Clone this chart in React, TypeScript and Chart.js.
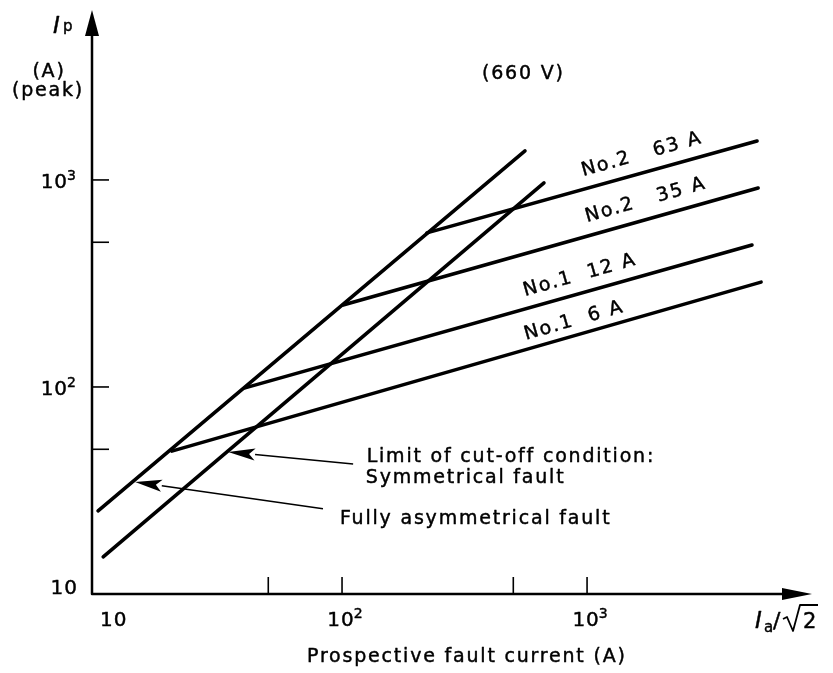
import React, { useEffect, useRef } from "react";
import { Chart, registerables } from "chart.js";

Chart.register(...registerables);

// ---------- data ----------
const xTickValues = [50, 100, 500, 1000];
const yTickValues = [50, 100, 500, 1000];
const xLabelValues = [10, 100, 1000];
const xLabelExponents = ["", "2", "3"];
const yLabelValues = [10, 100, 1000];
const yLabelExponents = ["", "2", "3"];

// Limit of cut-off condition lines (Ip vs Ia/sqrt2)
const asymX = [10.1, 558];
const asymY = [25.2, 1380];
const symX = [10.6, 667];
const symY = [15.1, 968];

// Fuse cut-off characteristics
const fuse63X = [222, 4940];
const fuse63Y = [555, 1542];
const fuse35X = [101, 4990];
const fuse35Y = [249, 914];
const fuse12X = [40.2, 4710];
const fuse12Y = [99, 485];
const fuse6X = [20.2, 5130];
const fuse6Y = [49, 321];

const fuseLabels = ["No.2   63 A", "No.2   35 A", "No.1  12 A", "No.1  6 A"];
const annotationTexts = [
  "Limit of cut-off condition:",
  "Symmetrical fault",
  "Fully asymmetrical fault",
];

const FONT = '"DejaVu Sans", Verdana, sans-serif';

// ---------- layout (positions in data space / pixels) ----------
const fuseLabelAnchors = [
  { x: 964, y: 1045 },
  { x: 1000, y: 627 },
  { x: 558, y: 275 },
  { x: 563, y: 169 },
];
const annotationAnchors = [
  { x: 126, y: 43.5 },
  { x: 125, y: 34.4 },
  { x: 98, y: 21.8 },
];
const arrowDefs = [
  { tail: { x: 111, y: 42.5 }, tip: { x: 34.3, y: 48.5 } },
  { tail: { x: 83.6, y: 25.8 }, tip: { x: 14.3, y: 34.8 } },
];

function seriesData(xs: number[], ys: number[]) {
  return xs.map((x, i) => ({ x, y: ys[i] }));
}

function boldText(ctx: CanvasRenderingContext2D, s: string, x: number, y: number) {
  ctx.fillText(s, x, y);
  ctx.lineWidth = 0.45;
  ctx.strokeText(s, x, y);
}

const decorPlugin = {
  id: "decor",
  afterDraw(chart: any) {
    const ctx: CanvasRenderingContext2D = chart.ctx;
    const xs = chart.scales.x;
    const ys = chart.scales.y;
    const { left, right, top, bottom } = chart.chartArea;
    const px = (v: number) => xs.getPixelForValue(v);
    const py = (v: number) => ys.getPixelForValue(v);

    ctx.save();
    ctx.fillStyle = "#000";
    ctx.strokeStyle = "#000";
    ctx.lineCap = "butt";
    ctx.lineJoin = "round";
    (ctx as any).letterSpacing = "0px";

    // axes
    ctx.lineWidth = 2.5;
    ctx.beginPath();
    ctx.moveTo(left, top + 20);
    ctx.lineTo(left, bottom);
    ctx.lineTo(right - 22, bottom);
    ctx.stroke();
    ctx.beginPath();
    ctx.moveTo(left, top);
    ctx.lineTo(left - 7, top + 26);
    ctx.lineTo(left + 7, top + 26);
    ctx.closePath();
    ctx.fill();
    ctx.beginPath();
    ctx.moveTo(right, bottom);
    ctx.lineTo(right - 30, bottom - 6);
    ctx.lineTo(right - 30, bottom + 6);
    ctx.closePath();
    ctx.fill();

    // tick marks (inward)
    ctx.lineWidth = 1.6;
    xTickValues.forEach((v) => {
      const x = px(v);
      ctx.beginPath();
      ctx.moveTo(x, bottom);
      ctx.lineTo(x, bottom - 17);
      ctx.stroke();
    });
    yTickValues.forEach((v) => {
      const y = py(v);
      ctx.beginPath();
      ctx.moveTo(left, y);
      ctx.lineTo(left + 17, y);
      ctx.stroke();
    });

    // power-of-ten labels
    const drawPow = (base: string, exp: string, x: number, y: number, align: string) => {
      (ctx as any).letterSpacing = "1px";
      ctx.font = `20px ${FONT}`;
      const w1 = ctx.measureText(base).width;
      ctx.font = `14px ${FONT}`;
      const w2 = exp ? ctx.measureText(exp).width : 0;
      const total = w1 + w2;
      const x0 = align === "right" ? x - total : align === "center" ? x - total / 2 : x;
      ctx.textAlign = "left";
      ctx.textBaseline = "alphabetic";
      ctx.font = `20px ${FONT}`;
      boldText(ctx, base, x0, y);
      if (exp) {
        ctx.font = `14px ${FONT}`;
        boldText(ctx, exp, x0 + w1 - 1, y - 8);
      }
    };
    yLabelValues.forEach((v, i) => {
      const y = py(v);
      const base = y > bottom - 4 ? bottom : y + 8;
      drawPow("10", yLabelExponents[i], left - 14, base, "right");
    });
    xLabelValues.forEach((v, i) => {
      const x = px(v);
      if (x < left + 8) drawPow("10", xLabelExponents[i], x + 3, bottom + 32, "left");
      else drawPow("10", xLabelExponents[i], x + 4, bottom + 32, "center");
    });

    // axis titles
    (ctx as any).letterSpacing = "1.8px";
    ctx.textBaseline = "alphabetic";
    ctx.textAlign = "left";
    ctx.font = `italic 23px ${FONT}`;
    boldText(ctx, "I", left - 39, 33);
    ctx.font = `15px ${FONT}`;
    boldText(ctx, "p", left - 29, 31);
    ctx.font = `19px ${FONT}`;
    ctx.textAlign = "center";
    boldText(ctx, "(A)", left - 43, 77);
    boldText(ctx, "(peak)", left - 44, 96);
    ctx.textAlign = "left";
    boldText(ctx, "(660 V)", 482, 79);
    boldText(ctx, "Prospective fault current (A)", 307, 662);

    // Ia / sqrt2
    (ctx as any).letterSpacing = "0px";
    ctx.font = `italic 23px ${FONT}`;
    boldText(ctx, "I", 755, 628);
    ctx.font = `15px ${FONT}`;
    boldText(ctx, "a", 764, 632);
    ctx.font = `22px ${FONT}`;
    boldText(ctx, "/", 773, 628);
    ctx.lineWidth = 1.8;
    ctx.beginPath();
    ctx.moveTo(783, 619);
    ctx.lineTo(787, 617);
    ctx.lineTo(793, 631);
    ctx.lineTo(800, 605);
    ctx.lineTo(818, 605);
    ctx.stroke();
    ctx.font = `21px ${FONT}`;
    boldText(ctx, "2", 803, 628);

    // fuse labels, rotated along their lines
    const fuseSets = [
      [fuse63X, fuse63Y],
      [fuse35X, fuse35Y],
      [fuse12X, fuse12Y],
      [fuse6X, fuse6Y],
    ];
    (ctx as any).letterSpacing = "1.8px";
    ctx.font = `19px ${FONT}`;
    fuseLabels.forEach((s, i) => {
      const [fx, fy] = fuseSets[i];
      const ang = Math.atan2(py(fy[1]) - py(fy[0]), px(fx[1]) - px(fx[0]));
      const a = fuseLabelAnchors[i];
      ctx.save();
      ctx.translate(px(a.x), py(a.y));
      ctx.rotate(ang);
      ctx.textAlign = "left";
      boldText(ctx, s, 0, 0);
      ctx.restore();
    });

    // annotation texts
    annotationTexts.forEach((s, i) => {
      const a = annotationAnchors[i];
      boldText(ctx, s, px(a.x), py(a.y));
    });

    // annotation arrows
    arrowDefs.forEach((d) => {
      const x1 = px(d.tail.x), y1 = py(d.tail.y);
      const x2 = px(d.tip.x), y2 = py(d.tip.y);
      const ang = Math.atan2(y2 - y1, x2 - x1);
      const L = 27, W = 6;
      const bx = x2 - L * Math.cos(ang), by = y2 - L * Math.sin(ang);
      ctx.lineWidth = 1.5;
      ctx.beginPath();
      ctx.moveTo(x1, y1);
      ctx.lineTo(bx, by);
      ctx.stroke();
      ctx.beginPath();
      ctx.moveTo(x2, y2);
      ctx.lineTo(bx + W * Math.sin(ang), by - W * Math.cos(ang));
      ctx.lineTo(bx + 6 * Math.cos(ang), by + 6 * Math.sin(ang));
      ctx.lineTo(bx - W * Math.sin(ang), by + W * Math.cos(ang));
      ctx.closePath();
      ctx.fill();
    });

    ctx.restore();
  },
};

export default function App() {
  const ref = useRef<HTMLCanvasElement>(null);

  useEffect(() => {
    const canvas = ref.current;
    if (!canvas) return;
    const lineStyle = {
      borderColor: "#000",
      backgroundColor: "#000",
      borderWidth: 3.6,
      borderCapStyle: "round" as const,
      pointRadius: 0,
      showLine: true,
      fill: false,
    };
    const chart = new Chart(canvas, {
      type: "scatter",
      data: {
        datasets: [
          { label: "Fully asymmetrical fault", data: seriesData(asymX, asymY), ...lineStyle },
          { label: "Symmetrical fault", data: seriesData(symX, symY), ...lineStyle },
          { label: fuseLabels[0], data: seriesData(fuse63X, fuse63Y), ...lineStyle },
          { label: fuseLabels[1], data: seriesData(fuse35X, fuse35Y), ...lineStyle },
          { label: fuseLabels[2], data: seriesData(fuse12X, fuse12Y), ...lineStyle },
          { label: fuseLabels[3], data: seriesData(fuse6X, fuse6Y), ...lineStyle },
        ],
      },
      options: {
        animation: false,
        responsive: false,
        devicePixelRatio: 1,
        layout: { padding: { left: 92, right: 21, top: 10, bottom: 79 } },
        scales: {
          x: { type: "logarithmic", min: 9.54, max: 8280, display: false },
          y: { type: "logarithmic", min: 10, max: 6620, display: false },
        },
        plugins: {
          legend: { display: false },
          tooltip: { enabled: false },
        },
        elements: { line: { tension: 0 } },
      },
      plugins: [decorPlugin],
    });
    return () => chart.destroy();
  }, []);

  return (
    <div
      style={{
        position: "absolute",
        left: 0,
        top: 0,
        width: 833,
        height: 673,
        background: "#fff",
      }}
    >
      <canvas ref={ref} width={833} height={673} style={{ width: 833, height: 673, display: "block" }} />
    </div>
  );
}
